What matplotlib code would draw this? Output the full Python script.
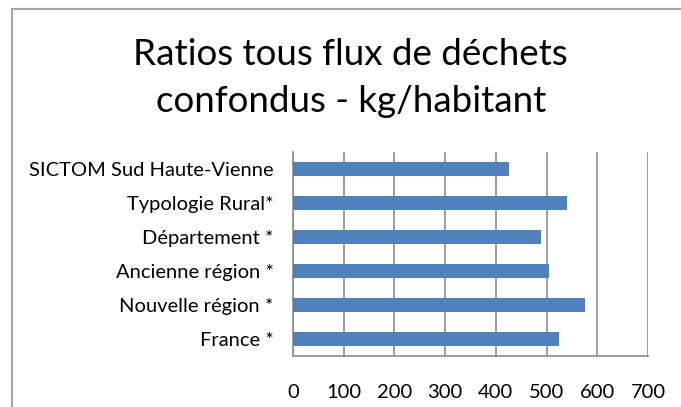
import matplotlib.pyplot as plt
from matplotlib.patches import Rectangle

plt.rcParams['font.family'] = ['Lato', 'DejaVu Sans']

categories = ['France *', 'Nouvelle région *', 'Ancienne région *',
              'Département *', 'Typologie Rural*', 'SICTOM Sud Haute-Vienne']
values = [525, 575, 504, 490, 541, 425]
ticks = [0, 100, 200, 300, 400, 500, 600, 700]

fig = plt.figure(figsize=(6.81, 4.07), dpi=100)
ax = fig.add_axes([0.4302, 0.1253, 0.5213, 0.5012])

ax.barh(range(len(categories)), values, height=0.4, color='#4f81bd', zorder=3)
ax.set_xlim(0, 700)
ax.set_ylim(-0.5, len(categories) - 0.5)
ax.set_xticks(ticks)
ax.set_yticks(range(len(categories)))
ax.set_yticklabels(categories)
ax.grid(axis='x', color='#8c8c8c', linewidth=1.2, zorder=0)

for side in ['top', 'right']:
    ax.spines[side].set_visible(False)
for side in ['left', 'bottom']:
    ax.spines[side].set_color('#8c8c8c')
    ax.spines[side].set_linewidth(1.2)

ax.tick_params(axis='x', length=0, pad=20, labelsize=14.5)
ax.tick_params(axis='y', length=0, pad=14, labelsize=14.5)

fig.text(0.515, 1 - 65 / 407, 'Ratios tous flux de déchets', ha='center',
         va='baseline', fontsize=26.5)
fig.text(0.515, 1 - 112 / 407, 'confondus - kg/habitant', ha='center',
         va='baseline', fontsize=26.5)

# outer chart border (cropped on the right and bottom)
fig.patches.append(Rectangle((12 / 681, -0.1), 1.2, 1 - 9 / 407 + 0.1,
                             transform=fig.transFigure, fill=False,
                             edgecolor='#a6a6a6', linewidth=1.5))

fig.savefig('out.png', dpi=100)
